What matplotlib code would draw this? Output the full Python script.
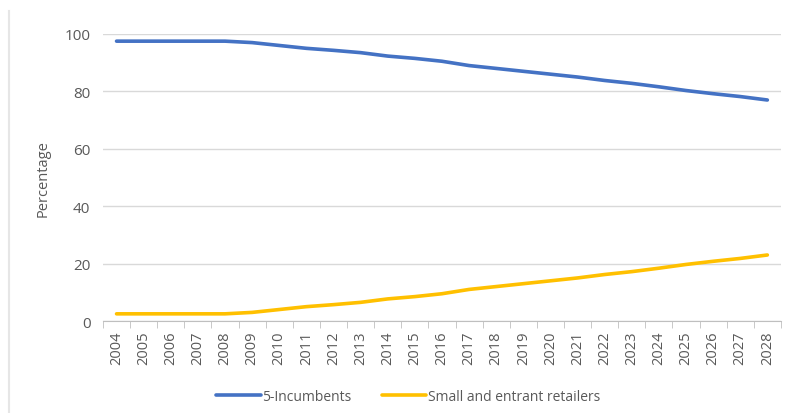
import numpy as np
import matplotlib.pyplot as plt
from matplotlib.lines import Line2D

years = [str(y) for y in range(2004, 2029)]
incumbents = [97.5, 97.5, 97.5, 97.5, 97.5, 97.0, 96.0, 95.0, 94.3, 93.5, 92.3,
              91.5, 90.5, 89.0, 88.0, 87.0, 86.0, 85.0, 83.8, 82.8, 81.6,
              80.3, 79.2, 78.2, 77.0]
small = [2.5, 2.5, 2.5, 2.5, 2.5, 3.0, 4.0, 5.0, 5.7, 6.5, 7.7,
         8.5, 9.5, 11.0, 12.0, 13.0, 14.0, 15.0, 16.2, 17.2, 18.4,
         19.7, 20.8, 21.8, 23.0]

plt.rcParams['font.family'] = ['Open Sans', 'DejaVu Sans']
grey = '#595959'

fig = plt.figure(figsize=(7.88, 4.14), dpi=100)
ax = fig.add_axes([0.1307, 0.2222, 0.8603, 0.6933])

x = np.arange(len(years))
ax.plot(x, incumbents, color='#4472C4', lw=2.6, solid_capstyle='round', label='5-Incumbents')
ax.plot(x, small, color='#FFC000', lw=2.6, solid_capstyle='round', label='Small and entrant retailers')

ax.set_xlim(-0.5, len(years) - 0.5)
ax.set_ylim(0, 100)
ax.set_yticks(range(0, 101, 20))
ax.grid(axis='y', color='#d9d9d9', lw=1)
ax.set_axisbelow(True)

ax.set_xticks(x)
ax.set_xticklabels(years, rotation=90, fontsize=10.5, color=grey)
ax.set_xticks(np.arange(-0.5, len(years), 1), minor=True)
ax.tick_params(axis='x', which='major', length=0, pad=7)
ax.tick_params(axis='x', which='minor', length=5, color='#bfbfbf')
ax.tick_params(axis='y', length=0, labelsize=11, labelcolor=grey, pad=9)

for s in ['top', 'right', 'left']:
    ax.spines[s].set_visible(False)
ax.spines['bottom'].set_color('#bfbfbf')

ax.set_ylabel('Percentage', fontsize=10.5, color=grey, labelpad=10)

ax.legend(loc='center', bbox_to_anchor=(0.45, -0.262), ncol=2, frameon=False,
          fontsize=10, labelcolor=grey, handlelength=3.2, handletextpad=0.1,
          columnspacing=2.2)

fig.add_artist(Line2D([0.0115, 0.0115], [0, 0.97], color='#e6e6e6', lw=1.5))

fig.savefig('out.png', dpi=100)
